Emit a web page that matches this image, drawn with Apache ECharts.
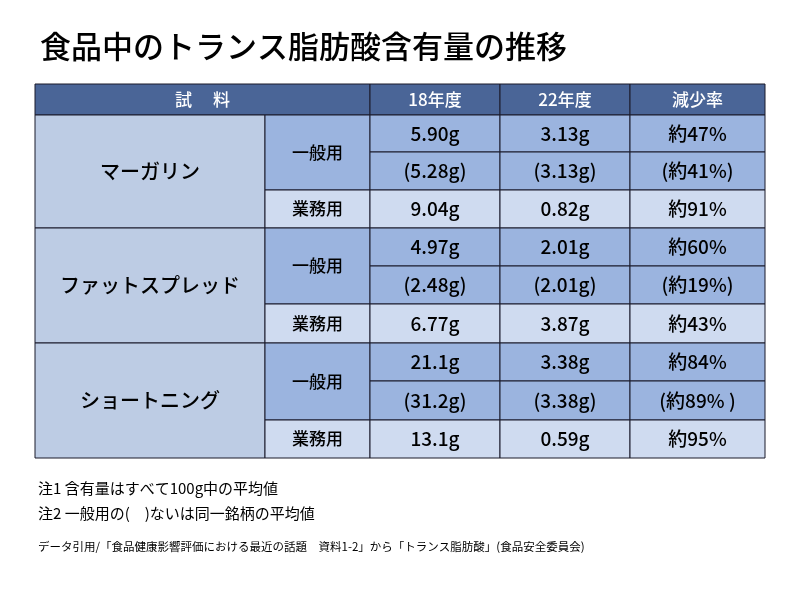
<!DOCTYPE html><html><head><meta charset="utf-8"><script src="https://cdn.jsdelivr.net/npm/echarts@6/dist/echarts.min.js"></script>
<style>body{margin:0}#c{width:800px;height:593px}</style></head><body><div id="c"></div><script>
const headers=['試　 料','18年度','22年度','減少率'];
const products=['マーガリン','ファットスプレッド','ショートニング'];
const uses=['一般用','業務用'];
const y18=['5.90g','(5.28g)','9.04g','4.97g','(2.48g)','6.77g','21.1g','(31.2g)','13.1g'];
const y22=['3.13g','(3.13g)','0.82g','2.01g','(2.01g)','3.87g','3.38g','(3.38g)','0.59g'];
const rate=['約47%','(約41%)','約91%','約60%','(約19%)','約43%','約84%','(約89% )','約95%'];
const notes=['注1 含有量はすべて100g中の平均値','注2 一般用の(　)ないは同一銘柄の平均値'];
const source='データ引用/「食品健康影響評価における最近の話題　資料1-2」から「トランス脂肪酸」(食品安全委員会)';
const title='食品中のトランス脂肪酸含有量の推移';

const colX=[35,265,370,500,630,765];
const rowY=[84,115,152,190,228,266,304,343,381,420,458];
const FONT='"Noto Sans CJK JP",sans-serif';
const g=[];
const border={stroke:'#1a1a2a',lineWidth:1};
function cell(x0,x1,y0,y1,fill,text,color,size){
  g.push({type:'rect',shape:{x:x0,y:y0,width:x1-x0,height:y1-y0},style:Object.assign({fill:fill},border)});
  if(text)g.push({type:'text',x:(x0+x1)/2,y:(y0+y1)/2,style:{text:text,fill:color||'#000',font:'500 '+(size||17)+'px '+FONT,align:'center',verticalAlign:'middle'}});
}
cell(colX[0],colX[2],rowY[0],rowY[1],'#4a6597',headers[0],'#fff',17);
for(let i=1;i<4;i++)cell(colX[i+1],colX[i+2],rowY[0],rowY[1],'#4a6597',headers[i],'#fff',17);
const DARK='#9bb4df',LIGHT='#cfdbf0';
products.forEach((p,k)=>{
  const r=1+k*3;
  cell(colX[0],colX[1],rowY[r],rowY[r+3],'#bdcce4',p,'#000',20);
  cell(colX[1],colX[2],rowY[r],rowY[r+2],DARK,uses[0],'#000',17);
  cell(colX[1],colX[2],rowY[r+2],rowY[r+3],LIGHT,uses[1],'#000',17);
  for(let j=0;j<3;j++){
    const idx=k*3+j, fill=j<2?DARK:LIGHT;
    cell(colX[2],colX[3],rowY[r+j],rowY[r+j+1],fill,y18[idx],'#000',19);
    cell(colX[3],colX[4],rowY[r+j],rowY[r+j+1],fill,y22[idx],'#000',19);
    cell(colX[4],colX[5],rowY[r+j],rowY[r+j+1],fill,rate[idx],'#000',19);
  }
});
g.push({type:'text',x:40,y:46,style:{text:title,fill:'#000',font:'500 31px '+FONT,verticalAlign:'middle'}});
notes.forEach((n,i)=>g.push({type:'text',x:38,y:488+i*25,style:{text:n,fill:'#000',font:'15px '+FONT,verticalAlign:'middle'}}));
g.push({type:'text',x:38,y:547,style:{text:source,fill:'#000',font:'11.5px '+FONT,verticalAlign:'middle'}});
const ch=echarts.init(document.getElementById('c'));
ch.setOption({backgroundColor:'#fff',graphic:g});
</script></body></html>
